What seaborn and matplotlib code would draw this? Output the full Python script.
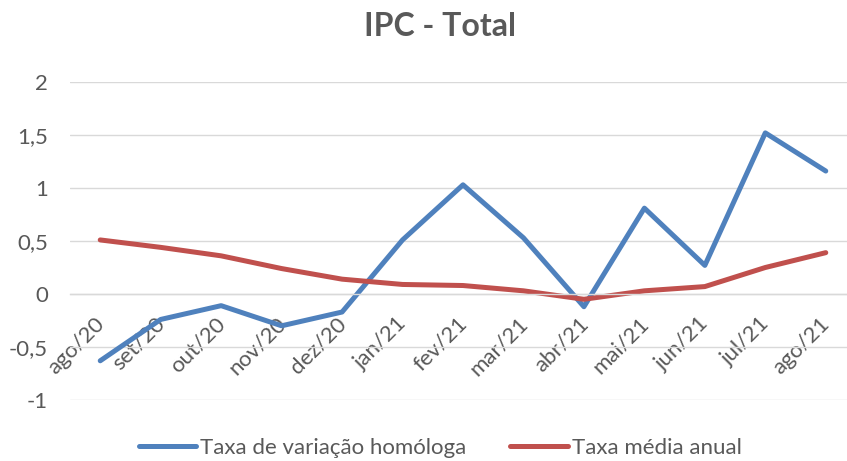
import pandas as pd
import matplotlib
matplotlib.use("Agg")
import matplotlib.pyplot as plt
import matplotlib.transforms as mtransforms
import seaborn as sns
from matplotlib.ticker import FixedLocator, FuncFormatter

meses = ["ago/20", "set/20", "out/20", "nov/20", "dez/20", "jan/21", "fev/21",
         "mar/21", "abr/21", "mai/21", "jun/21", "jul/21", "ago/21"]
taxa_homologa = [-0.63, -0.24, -0.11, -0.30, -0.17, 0.51, 1.03,
                 0.53, -0.12, 0.81, 0.27, 1.52, 1.16]
taxa_media = [0.51, 0.44, 0.36, 0.24, 0.14, 0.09, 0.08,
              0.03, -0.05, 0.03, 0.07, 0.25, 0.39]
series = ["Taxa de variação homóloga", "Taxa média anual"]
cores = ["#4F81BD", "#C0504D"]

df = pd.concat([
    pd.DataFrame({"mes": range(len(meses)), "valor": taxa_homologa, "serie": series[0]}),
    pd.DataFrame({"mes": range(len(meses)), "valor": taxa_media, "serie": series[1]}),
], ignore_index=True)

sns.set_style("white")
plt.rcParams["font.family"] = ["Lato", "DejaVu Sans"]
texto = "#595959"
fs = 16

fig = plt.figure(figsize=(8.47, 4.61), dpi=100)
ax = fig.add_axes([70 / 847, 61 / 461, 786 / 847, 318 / 461])

sns.lineplot(data=df, x="mes", y="valor", hue="serie", palette=cores,
             linewidth=3.6, ax=ax, legend=True)

ax.set_xlim(-0.5, len(meses) - 0.5)
ax.set_ylim(-1, 2)
ax.set_yticks([-1, -0.5, 0, 0.5, 1, 1.5, 2])
ax.yaxis.set_major_formatter(FuncFormatter(lambda v, p: f"{v:g}".replace(".", ",")))
ax.grid(axis="y", color="#D9D9D9", linewidth=1)
ax.set_axisbelow(True)

for s in ["top", "right", "left"]:
    ax.spines[s].set_visible(False)
ax.spines["bottom"].set_position(("data", 0))
ax.spines["bottom"].set_color("#D9D9D9")
ax.spines["bottom"].set_linewidth(1)

ax.set_xticks(range(len(meses)))
ax.set_xticklabels(meses, rotation=45, ha="right", va="top", rotation_mode="anchor")
ax.xaxis.set_minor_locator(FixedLocator([i - 0.5 for i in range(len(meses) + 1)]))
ax.tick_params(axis="x", which="major", length=0, pad=14, labelsize=fs, labelcolor=texto)
ax.tick_params(axis="x", which="minor", length=5, color="#D9D9D9", width=1, direction="out")
ax.tick_params(axis="y", length=0, pad=16, labelsize=fs, labelcolor=texto)
desloc = mtransforms.ScaledTranslation(-6 / 100, 0, fig.dpi_scale_trans)
for lbl in ax.get_xticklabels():
    lbl.set_transform(lbl.get_transform() + desloc)

ax.set_xlabel("")
ax.set_ylabel("")

fig.text(440 / 847, 1 - 27 / 461, "IPC - Total", ha="center", va="center",
         fontsize=23, fontweight="bold", color=texto)

handles, labels = ax.get_legend_handles_labels()
ax.legend(handles, labels, loc="center", bbox_to_anchor=(440 / 847, 1 - 448 / 461),
          bbox_transform=fig.transFigure, ncol=2, frameon=False, fontsize=fs,
          handlelength=2.6, handletextpad=0.15, columnspacing=2.0, labelcolor=texto)
for line in ax.get_legend().get_lines():
    line.set_linewidth(3.6)

fig.savefig("out.png", dpi=100)
